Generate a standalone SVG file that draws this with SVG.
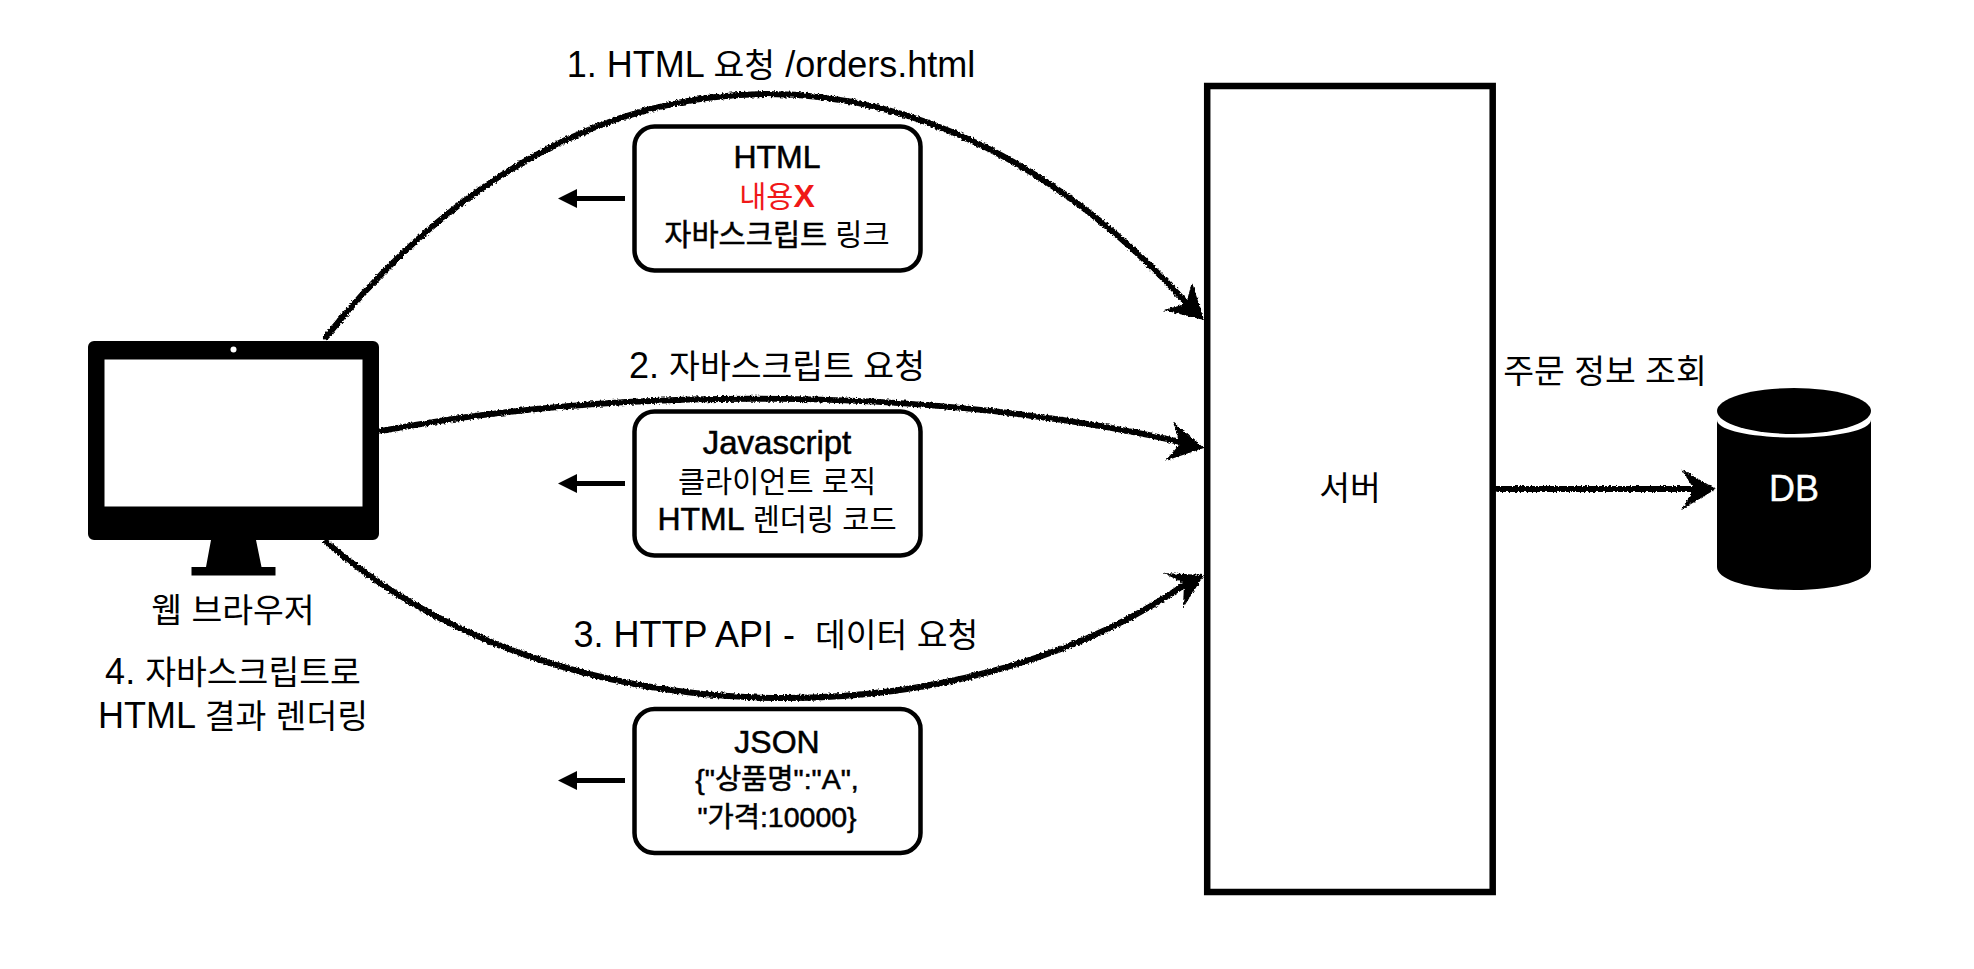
<svg xmlns="http://www.w3.org/2000/svg" width="1974" height="969" viewBox="0 0 1974 969">
<style>
text{font-family:"Liberation Sans","Noto Sans CJK KR",sans-serif;fill:#000;text-anchor:middle;white-space:pre}
.l{font-size:36px}
.k{font-size:33.500px}
.t{font-size:32px}
.h{font-size:29.500px}
.b{stroke:#000;stroke-width:.55px}
.r{fill:#f01818}
.box{fill:#fff;stroke:#000;stroke-width:4.5}
.sk{fill:none;stroke:#000;stroke-width:6;stroke-linecap:round}
.hd{fill:#000;stroke:none}
.sm{fill:none;stroke:#000;stroke-width:5}
</style>
<defs>
<filter id="rough" filterUnits="userSpaceOnUse" x="0" y="0" width="1974" height="969">
<feTurbulence type="fractalNoise" baseFrequency="0.45" numOctaves="2" seed="4" result="n"/>
<feDisplacementMap in="SourceGraphic" in2="n" scale="4" xChannelSelector="R" yChannelSelector="G"/>
</filter>
<marker id="tri" markerUnits="userSpaceOnUse" markerWidth="20" markerHeight="20" refX="7" refY="9.5" orient="auto"><path d="M0,0L19,9.5L0,19Z"/></marker>
</defs>
<rect width="1974" height="969" fill="#fff"/>
<g id="connectors">
<g filter="url(#rough)">
<path class="sk" d="M326,337C590,8 940,28 1190,307"/>
<path class="hd" d="M1204,320L1192,282L1186,304L1163,310Z"/>
<path class="sk" d="M381,431C620,386 940,386 1190,444"/>
<path class="hd" d="M1204,448L1173,422L1180,444L1165,461Z"/>
<path class="sk" d="M326,542C560,743 960,743 1190,581"/>
<path class="hd" d="M1204,575L1163,573L1184,583L1183,608Z"/>
<path class="sk" d="M1497,489L1700,489"/>
<path class="hd" d="M1716,489L1681,469L1694,489L1681,510Z"/>
</g>
<path class="sm" d="M625,198.500H570" marker-end="url(#tri)"/>
<path class="sm" d="M625,483.500H570" marker-end="url(#tri)"/>
<path class="sm" d="M625,780.500H570" marker-end="url(#tri)"/>
</g>
<g id="browser">
<path fill-rule="evenodd" d="M94,341H373a6,6 0 0 1 6,6V534a6,6 0 0 1 -6,6H94a6,6 0 0 1 -6,-6V347a6,6 0 0 1 6,-6ZM104.500,359.500V506.500H362.500V359.500Z"/>
<circle cx="233.500" cy="349.500" r="3" fill="#fff" stroke="none"/>
<path d="M211,540H256L261.500,567H275.500V575.500H191.500V567H206Z"/>
<text class="k" x="233" y="622">웹 브라우저</text>
<text class="l" x="233" y="684">4. <tspan class="k">자바스크립트로</tspan></text>
<text class="l" x="233" y="728">HTML <tspan class="k">결과 렌더링</tspan></text>
</g>
<g id="label1"><text class="l" x="771" y="77">1. HTML <tspan class="k">요청</tspan> /orders.html</text></g>
<g id="label2"><text class="l" x="777" y="378">2. <tspan class="k">자바스크립트 요청</tspan></text></g>
<g id="label3"><text class="l" x="776" y="647">3. HTTP API -  <tspan class="k">데이터 요청</tspan></text></g>
<g id="box1">
<rect class="box" x="634.500" y="126.500" width="286" height="144" rx="20"/>
<text class="t" x="777" y="168"><tspan class="b">HTML</tspan></text>
<text class="t" x="777" y="207"><tspan class="r h">내용</tspan><tspan class="r" style="font-weight:bold">X</tspan></text>
<text class="h" x="777" y="245"><tspan class="b">자바스크립트</tspan> 링크</text>
</g>
<g id="box2">
<rect class="box" x="634.500" y="411.500" width="286" height="144" rx="20"/>
<text class="t" x="777" y="454" style="font-size:33px"><tspan class="b">Javascript</tspan></text>
<text class="h" x="777" y="492">클라이언트 로직</text>
<text class="t" x="777" y="530"><tspan class="b">HTML</tspan><tspan class="h"> 렌더링 코드</tspan></text>
</g>
<g id="box3">
<rect class="box" x="634.500" y="709" width="286" height="144" rx="20"/>
<text class="t" x="777" y="753"><tspan class="b">JSON</tspan></text>
<text class="t b" x="777" y="789" style="font-size:28.500px">{"상품명":"A",</text>
<text class="t b" x="777" y="827" style="font-size:28.500px">"가격:10000}</text>
</g>
<g id="server">
<rect x="1207.200" y="86" width="285.500" height="806" fill="#fff" stroke="#000" stroke-width="6.500"/>
<text class="k" x="1350" y="500">서버</text>
</g>
<g id="query"><text class="k" x="1605" y="383">주문 정보 조회</text></g>
<g id="db">
<path d="M1717,420V567C1717,580 1751,590 1794,590S1871,580 1871,567V420C1871,430 1837,437.500 1794,437.500S1717,430 1717,420Z"/>
<ellipse cx="1794" cy="411" rx="77" ry="23"/>
<text x="1794" y="501" style="font-size:36px;fill:#fff;stroke:#fff;stroke-width:.4px">DB</text>
</g>
</svg>
